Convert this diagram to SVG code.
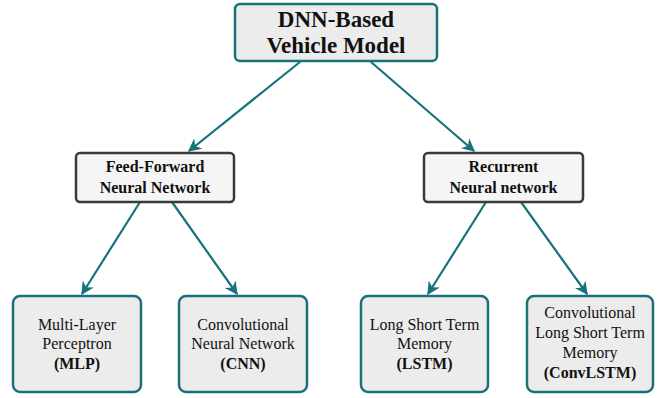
<svg xmlns="http://www.w3.org/2000/svg" width="665" height="398" viewBox="0 0 665 398">
<style>
.teal{fill:#ececec;stroke:#17737a;stroke-width:2.5}
.mid{fill:#f5f5f5;stroke:#3a3a3a;stroke-width:2.5}
.t{text-anchor:middle;fill:#111;font-family:'Liberation Serif',serif}
.b{font-weight:bold}
.conn line{stroke:#17737a;stroke-width:2.2;marker-end:url(#ah)}
</style>
<defs>
<marker id="ah" viewBox="0 0 10 10" refX="9" refY="5" markerWidth="6" markerHeight="6" orient="auto" markerUnits="strokeWidth">
<path d="M0,0 L10,5 L0,10 L3,5 Z" fill="#17737a"/>
</marker>
</defs>
<g class="conn">
<line x1="300" y1="62" x2="189" y2="151"/>
<line x1="371" y1="62" x2="474" y2="151"/>
<line x1="140" y1="202" x2="82" y2="294"/>
<line x1="172" y1="202" x2="237" y2="294"/>
<line x1="486" y1="202" x2="428" y2="294"/>
<line x1="521" y1="202" x2="587" y2="294"/>
</g>
<g id="root">
<rect class="teal" x="235" y="4" width="202" height="57" rx="5"/>
<text class="t b" x="336" y="27" style="font-size:23px;font-family:'Liberation Serif'">DNN-Based</text>
<text class="t b" x="336" y="53" style="font-size:23px;font-family:'Liberation Serif'">Vehicle Model</text>
</g>
<g id="ffnn">
<rect class="mid" x="76" y="153" width="158" height="49" rx="4"/>
<text class="t b" x="155" y="172" style="font-size:16px;font-family:'Liberation Serif'">Feed-Forward</text>
<text class="t b" x="155" y="193" style="font-size:16px;font-family:'Liberation Serif'">Neural Network</text>
</g>
<g id="rnn">
<rect class="mid" x="424" y="153" width="159" height="49" rx="4"/>
<text class="t b" x="503.5" y="172" style="font-size:16px;font-family:'Liberation Serif'">Recurrent</text>
<text class="t b" x="503.5" y="193" style="font-size:16px;font-family:'Liberation Serif'">Neural network</text>
</g>
<g id="mlp">
<rect class="teal" x="13" y="296" width="128" height="96" rx="7"/>
<text class="t" x="77" y="330" style="font-size:16px;font-family:'Liberation Serif'">Multi-Layer</text>
<text class="t" x="77" y="349" style="font-size:16px;font-family:'Liberation Serif'">Perceptron</text>
<text class="t b" x="77" y="369" style="font-size:16px;font-family:'Liberation Serif'">(MLP)</text>
</g>
<g id="cnn">
<rect class="teal" x="179" y="296" width="128" height="96" rx="7"/>
<text class="t" x="243" y="330" style="font-size:16px;font-family:'Liberation Serif'">Convolutional</text>
<text class="t" x="243" y="349" style="font-size:16px;font-family:'Liberation Serif'">Neural Network</text>
<text class="t b" x="243" y="369" style="font-size:16px;font-family:'Liberation Serif'">(CNN)</text>
</g>
<g id="lstm">
<rect class="teal" x="361" y="296" width="127" height="96" rx="7"/>
<text class="t" x="424.5" y="330" style="font-size:16px;font-family:'Liberation Serif'">Long Short Term</text>
<text class="t" x="424.5" y="349" style="font-size:16px;font-family:'Liberation Serif'">Memory</text>
<text class="t b" x="424.5" y="369" style="font-size:16px;font-family:'Liberation Serif'">(LSTM)</text>
</g>
<g id="convlstm">
<rect class="teal" x="527" y="296" width="126" height="96" rx="7"/>
<text class="t" x="590" y="318" style="font-size:16px;font-family:'Liberation Serif'">Convolutional</text>
<text class="t" x="590" y="338" style="font-size:16px;font-family:'Liberation Serif'">Long Short Term</text>
<text class="t" x="590" y="358" style="font-size:16px;font-family:'Liberation Serif'">Memory</text>
<text class="t b" x="590" y="378" style="font-size:16px;font-family:'Liberation Serif'">(ConvLSTM)</text>
</g>
</svg>
